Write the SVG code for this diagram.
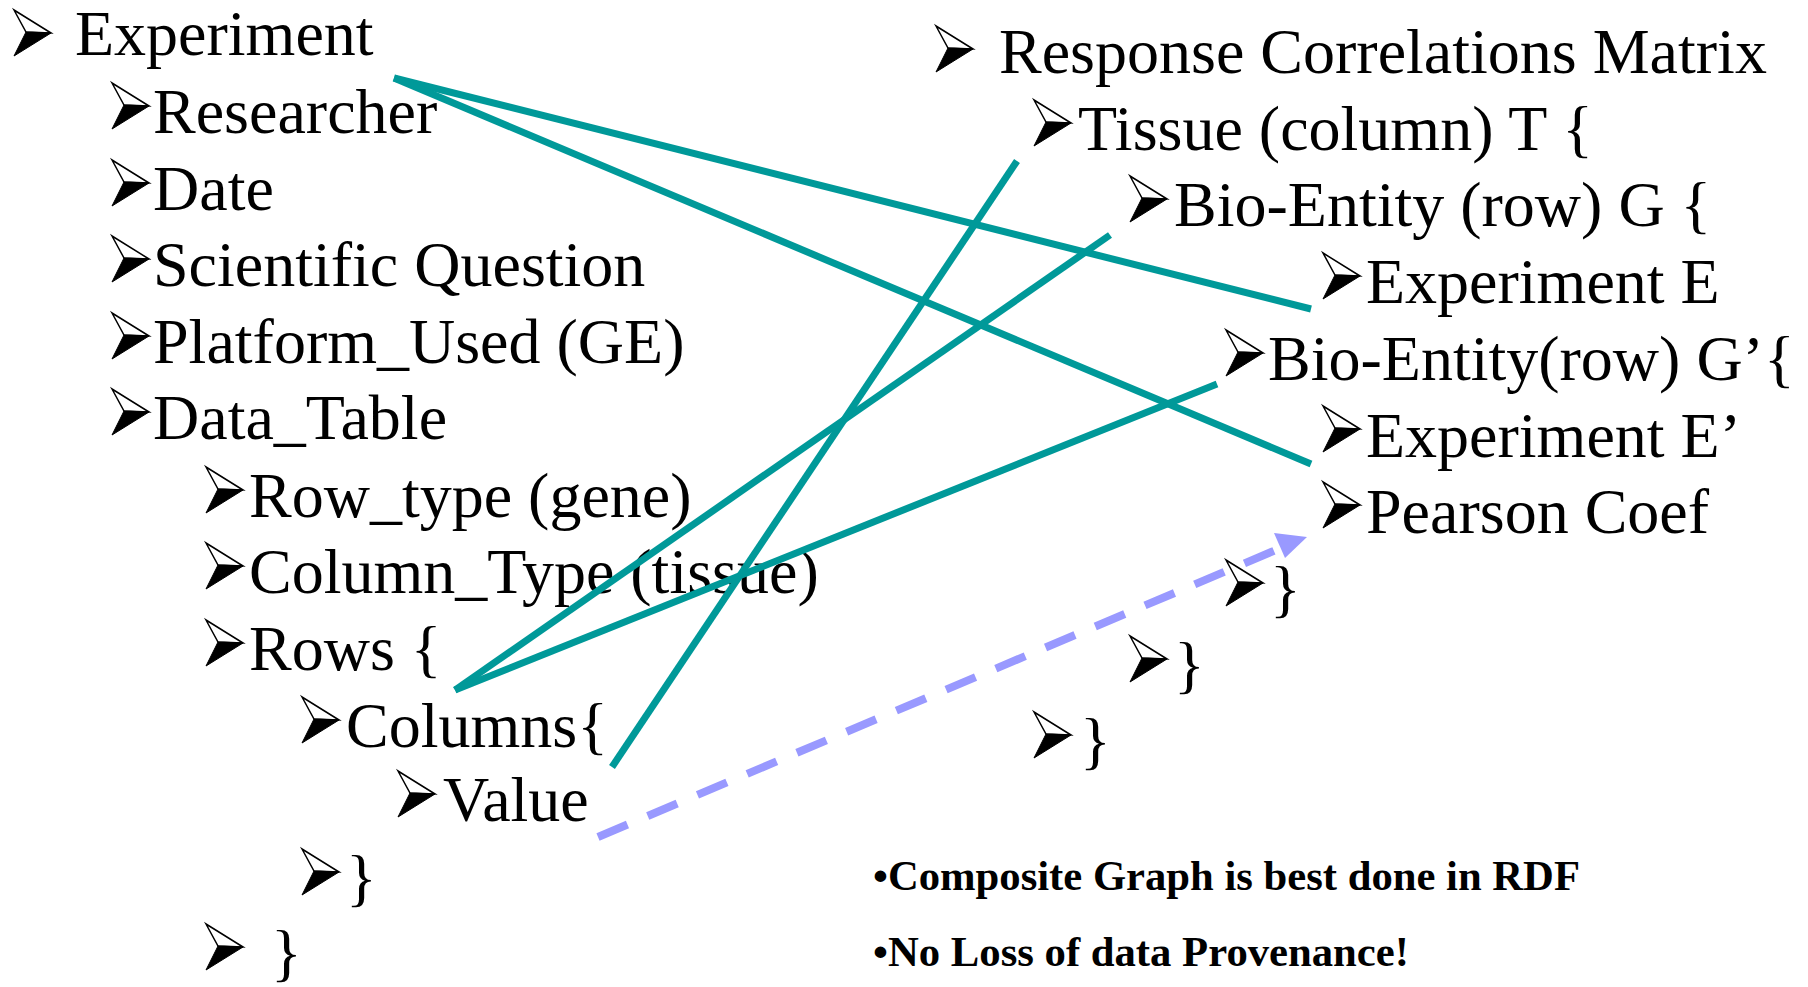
<svg xmlns="http://www.w3.org/2000/svg" xmlns:xlink="http://www.w3.org/1999/xlink" width="1808" height="987" viewBox="0 0 1808 987">
<style>
.t{font-family:"Liberation Serif","Times New Roman",serif;font-size:64px;fill:#000}
.b{font-family:"Liberation Serif","Times New Roman",serif;font-size:42px;font-weight:bold;fill:#000}
.teal{stroke:#009999;stroke-width:7;fill:none}
.dash{stroke:#9999ff;stroke-width:8;fill:none;stroke-dasharray:32 22}
</style>
<defs>
<g id="bul">
<path d="M0,0 L37,23 L12,22 Z" fill="#fff" stroke="#000" stroke-width="1.5" stroke-linejoin="miter"/>
<path d="M12,22 L37,23 L0,46 Z" fill="#000" stroke="#000" stroke-width="1"/>
</g>
</defs>
<rect width="1808" height="987" fill="#fff"/>

<g id="n-experiment"><use xlink:href="#bul" x="14" y="10"/><text class="t" x="75" y="55">Experiment</text></g>
<g id="n-researcher"><use xlink:href="#bul" x="112" y="83"/><text class="t" x="153" y="133">Researcher</text></g>
<g id="n-date"><use xlink:href="#bul" x="112" y="160"/><text class="t" x="153" y="210">Date</text></g>
<g id="n-question"><use xlink:href="#bul" x="112" y="236"/><text class="t" x="153" y="286">Scientific Question</text></g>
<g id="n-platform"><use xlink:href="#bul" x="112" y="313"/><text class="t" x="153" y="363">Platform_Used (GE)</text></g>
<g id="n-datatable"><use xlink:href="#bul" x="112" y="389"/><text class="t" x="153" y="439">Data_Table</text></g>
<g id="n-rowtype"><use xlink:href="#bul" x="206" y="467"/><text class="t" x="249" y="517">Row_type (gene)</text></g>
<g id="n-coltype"><use xlink:href="#bul" x="206" y="543"/><text class="t" x="249" y="593">Column_Type (tissue)</text></g>
<g id="n-rows"><use xlink:href="#bul" x="206" y="620"/><text class="t" x="249" y="670">Rows {</text></g>
<g id="n-columns"><use xlink:href="#bul" x="302" y="697"/><text class="t" x="346" y="747">Columns{</text></g>
<g id="n-value"><use xlink:href="#bul" x="398" y="771"/><text class="t" x="443" y="821">Value</text></g>
<g id="n-close1"><use xlink:href="#bul" x="302" y="849"/><text class="t" x="346" y="899">}</text></g>
<g id="n-close2"><use xlink:href="#bul" x="206" y="924"/><text class="t" x="271" y="974">}</text></g>

<g id="n-rcm"><use xlink:href="#bul" x="936" y="26"/><text class="t" x="999" y="73">Response Correlations Matrix</text></g>
<g id="n-tissue"><use xlink:href="#bul" x="1034" y="100"/><text class="t" x="1078" y="150">Tissue (column) T {</text></g>
<g id="n-bioG"><use xlink:href="#bul" x="1130" y="176"/><text class="t" x="1174" y="226">Bio-Entity (row) G {</text></g>
<g id="n-expE"><use xlink:href="#bul" x="1323" y="253"/><text class="t" x="1366" y="303">Experiment E</text></g>
<g id="n-bioG2"><use xlink:href="#bul" x="1226" y="330"/><text class="t" x="1268" y="380">Bio-Entity(row) G’{</text></g>
<g id="n-expE2"><use xlink:href="#bul" x="1323" y="406"/><text class="t" x="1366" y="457">Experiment E’</text></g>
<g id="n-pearson"><use xlink:href="#bul" x="1323" y="482"/><text class="t" x="1366" y="533">Pearson Coef</text></g>
<g id="n-rclose1"><use xlink:href="#bul" x="1226" y="560"/><text class="t" x="1270" y="610">}</text></g>
<g id="n-rclose2"><use xlink:href="#bul" x="1130" y="636"/><text class="t" x="1174" y="686">}</text></g>
<g id="n-rclose3"><use xlink:href="#bul" x="1034" y="712"/><text class="t" x="1080" y="762">}</text></g>

<g id="notes">
<text class="b" x="873" y="890" textLength="707" lengthAdjust="spacingAndGlyphs">•Composite Graph is best done in RDF</text>
<text class="b" x="873" y="966" textLength="536" lengthAdjust="spacingAndGlyphs">•No Loss of data Provenance!</text>
</g>

<g id="connectors">
<line class="teal" x1="394" y1="78" x2="1311" y2="309"/>
<line class="teal" x1="394" y1="78" x2="1311" y2="464"/>
<line class="teal" x1="455" y1="690" x2="1110" y2="235"/>
<line class="teal" x1="455" y1="690" x2="1217" y2="384"/>
<line class="teal" x1="612" y1="767" x2="1017" y2="161"/>
<line class="dash" x1="598" y1="837" x2="1283" y2="547"/>
<polygon points="1307,537 1274,533 1285,558" fill="#9999ff"/>
</g>
</svg>
